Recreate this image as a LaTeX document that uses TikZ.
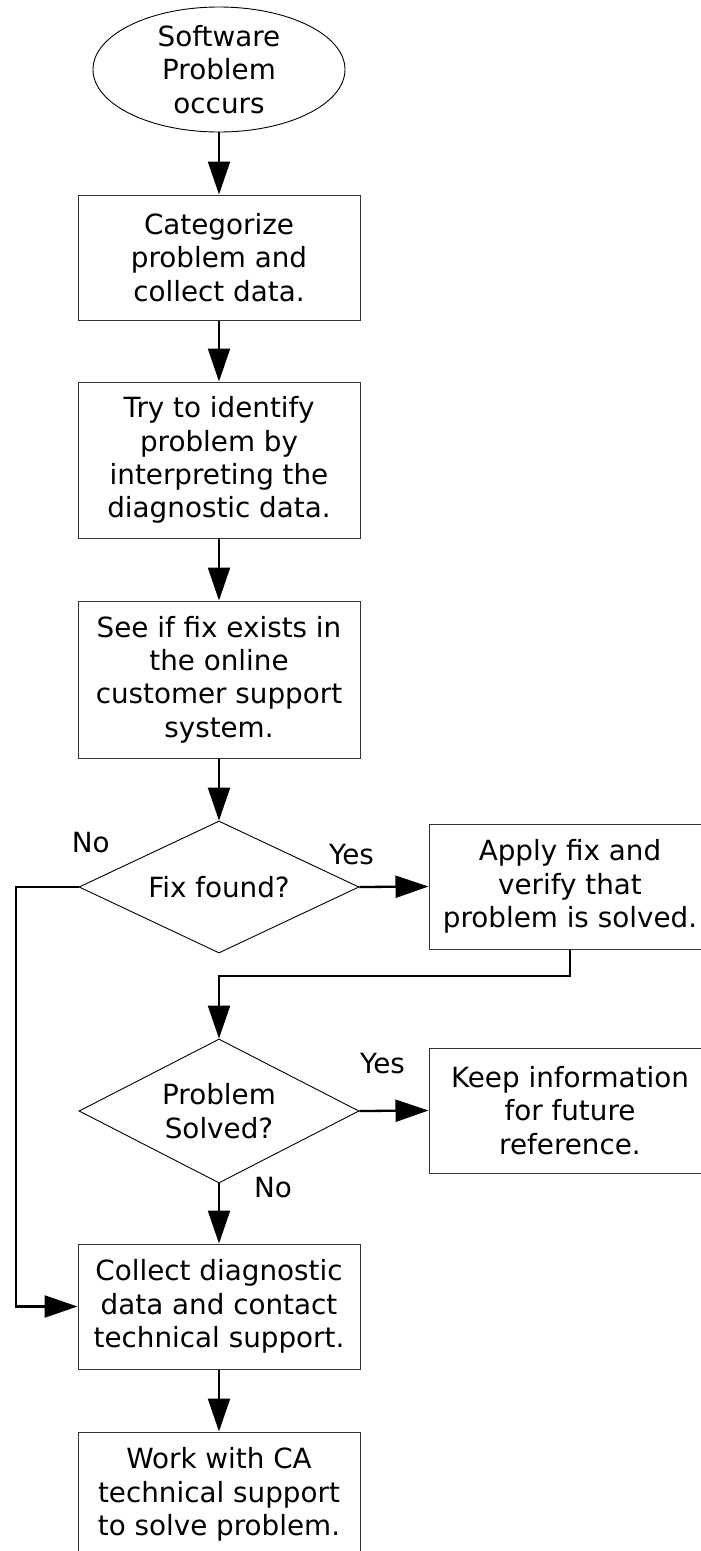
\documentclass[tikz,border=0pt]{standalone}
\usepackage{fontspec}
\setmainfont{DejaVu Sans}
\usetikzlibrary{arrows.meta,shapes.geometric}
\begin{document}
\begin{tikzpicture}[x=1pt,y=-1pt,
  every node/.style={font=\fontsize{27.8}{33.3}\selectfont},
  stepbox/.style={draw=black!80,line width=1pt,minimum width=282pt,inner sep=0pt,align=center},
  decision/.style={draw,line width=0.9pt,diamond,minimum width=280pt,inner sep=0pt},
  terminal/.style={draw,line width=0.9pt,ellipse,minimum width=252pt,minimum height=125pt,inner sep=0pt},
  inner/.style={align=center,inner sep=0pt},
  conn/.style={line width=2.3pt,-{Triangle[length=33pt,width=22pt]}},
  lbl/.style={inner sep=0pt}
]
\clip (0,0) rectangle (701,1551);
\fill[white] (0,0) rectangle (701,1551);

% start of the flow
\node[terminal] (start) at (219,69.5) {};
\node[inner] (starttext) at (start.center) {Software\\Problem\\occurs};

% main column of steps
\node[stepbox,minimum height=125pt] (cat) at (219,257.5) {Categorize\\problem and\\collect data.};
\node[stepbox,minimum height=156pt] (ident) at (219,460) {Try to identify\\problem by\\interpreting the\\diagnostic data.};
\node[stepbox,minimum height=157pt] (online) at (219,679.5) {See if fix exists in\\the online\\customer support\\system.};

\node[decision,minimum height=132pt] (fix) at (219,887) {};
\node[inner] (fixtext) at (fix.center) {Fix found?};

\node[stepbox,minimum height=125pt] (apply) at (570,886.5) {Apply fix and\\verify that\\problem is solved.};

\node[decision,minimum height=144pt] (solved) at (219,1111) {};
\node[inner] (solvedtext) at (solved.center) {Problem\\Solved?};

\node[stepbox,minimum height=125pt] (keep) at (570,1110.5) {Keep information\\for future\\reference.};

\node[stepbox,minimum height=125pt] (collect) at (219,1306.5) {Collect diagnostic\\data and contact\\technical support.};
\node[stepbox,minimum height=125pt] (work) at (219,1494.5) {Work with CA\\technical support\\to solve problem.};

% branch labels
\node[lbl] (no1) at (90.7,842.5) {No};
\node[lbl] (yes1) at (351.5,854.5) {Yes};
\node[lbl] (yes2) at (382.5,1064) {Yes};
\node[lbl] (no2) at (273,1188) {No};

% connectors
\draw[conn] (start.south) -- (cat.north);
\draw[conn] (cat.south) -- (ident.north);
\draw[conn] (ident.south) -- (online.north);
\draw[conn] (online.south) -- (fix.north);
\draw[conn] (fix.east) -- (apply.west);
\coordinate (applyturn) at (570,976);
\draw[conn] (apply.south) -- (applyturn) -| (solved.north);
\draw[conn] (solved.east) -- (keep.west);
\draw[conn] (solved.south) -- (collect.north);
\coordinate (noturn) at (16,887);
\draw[conn] (fix.west) -- (noturn) |- (collect.west);
\draw[conn] (collect.south) -- (work.north);
\end{tikzpicture}
\end{document}
